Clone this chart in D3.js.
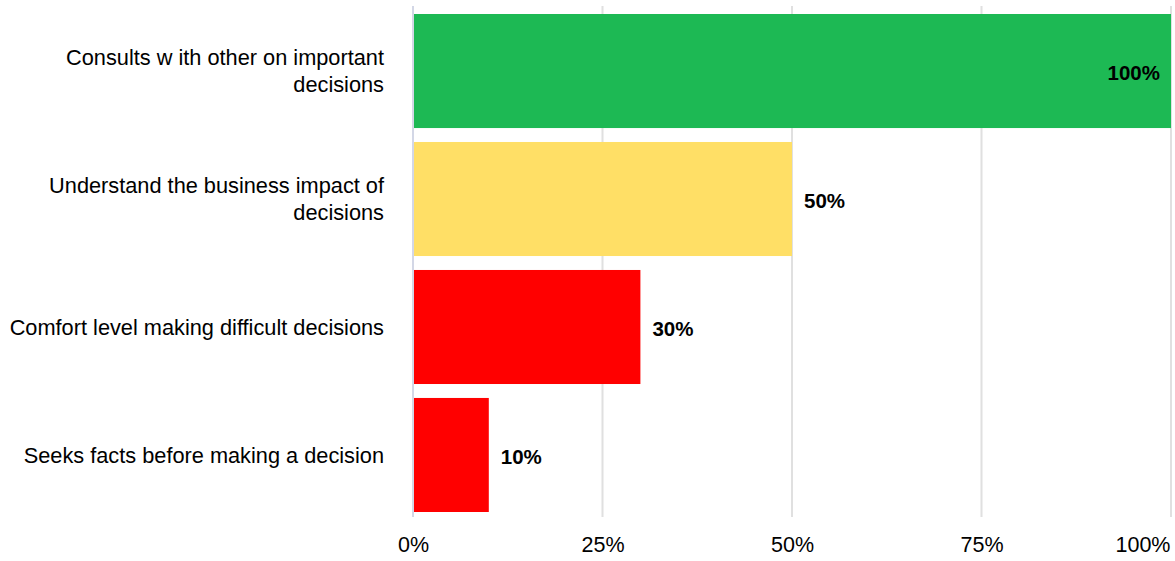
<!DOCTYPE html>
<html>
<head>
<meta charset="utf-8">
<script src="https://cdn.jsdelivr.net/npm/d3@7"></script>
<style>
  html, body { margin: 0; padding: 0; background: #fff; }
  svg text { font-family: "Liberation Sans", Arial, sans-serif; }
</style>
</head>
<body>
<svg id="chart" width="1175" height="561"></svg>
<script>
// Categories (two-line labels split with "\n"), values and bar colours
const categories = [
  "Consults w ith other on important\ndecisions",
  "Understand the business impact of\ndecisions",
  "Comfort level making difficult decisions",
  "Seeks facts before making a decision"
];
const values = [100, 50, 30, 10];
const barColors = ["#1db954", "#ffdf66", "#ff0000", "#ff0000"];
const tickValues = [0, 25, 50, 75, 100];

const svg = d3.select("#chart");
const plotLeft = 413, plotRight = 1171, gridTop = 6, gridBottom = 517;

const x = d3.scaleLinear().domain([0, 100]).range([plotLeft, plotRight]);
const y = d3.scaleBand().domain(categories).range([7, 519]).paddingInner(0.109).paddingOuter(0.0547);

// Vertical gridlines
svg.append("g").selectAll("line")
  .data(tickValues.filter(d => d > 0))
  .join("line")
  .attr("x1", d => x(d)).attr("x2", d => x(d))
  .attr("y1", gridTop).attr("y2", gridBottom)
  .attr("stroke", "#e0e0e0").attr("stroke-width", 2);

// Bars
svg.append("g").selectAll("rect")
  .data(categories)
  .join("rect")
  .attr("x", x(0) + 1)
  .attr("y", d => y(d))
  .attr("width", (d, i) => x(values[i]) - x(0) - 1)
  .attr("height", y.bandwidth())
  .attr("fill", (d, i) => barColors[i]);

// Zero baseline
svg.append("line")
  .attr("x1", x(0)).attr("x2", x(0))
  .attr("y1", gridTop).attr("y2", gridBottom)
  .attr("stroke", "#d3d7e6").attr("stroke-width", 2);

// Value labels
svg.append("g").selectAll("text")
  .data(categories)
  .join("text")
  .attr("x", (d, i) => values[i] >= 100 ? x(values[i]) - 11 : x(values[i]) + 12)
  .attr("y", d => y(d) + y.bandwidth() / 2 + 2)
  .attr("dy", "0.35em")
  .attr("text-anchor", (d, i) => values[i] >= 100 ? "end" : "start")
  .attr("font-size", 20.5)
  .attr("font-weight", "bold")
  .attr("fill", "#000")
  .text((d, i) => values[i] + "%");

// Category labels
const catG = svg.append("g");
categories.forEach(c => {
  const lines = c.split("\n");
  const cy = y(c) + y.bandwidth() / 2;
  const lh = 27.5;
  const t = catG.append("text")
    .attr("text-anchor", "end")
    .attr("font-size", 21.75)
    .attr("fill", "#000");
  lines.forEach((ln, j) => {
    t.append("tspan")
      .attr("x", 384)
      .attr("y", cy + (j - (lines.length - 1) / 2) * lh)
      .attr("dy", "0.35em")
      .text(ln);
  });
});

// X axis tick labels (last label kept inside the right edge)
const xAxis = d3.axisBottom(x).tickValues(tickValues).tickFormat(d => d + "%").tickSize(0).tickPadding(0);
const ax = svg.append("g").attr("transform", `translate(0, 537)`).call(xAxis);
ax.select(".domain").remove();
ax.selectAll("text").attr("font-size", 21.5).attr("fill", "#000")
  .attr("font-family", "Liberation Sans, Arial, sans-serif");
ax.selectAll(".tick").filter(d => d === 100).select("text")
  .attr("text-anchor", "end").attr("x", -1);
</script>
</body>
</html>
